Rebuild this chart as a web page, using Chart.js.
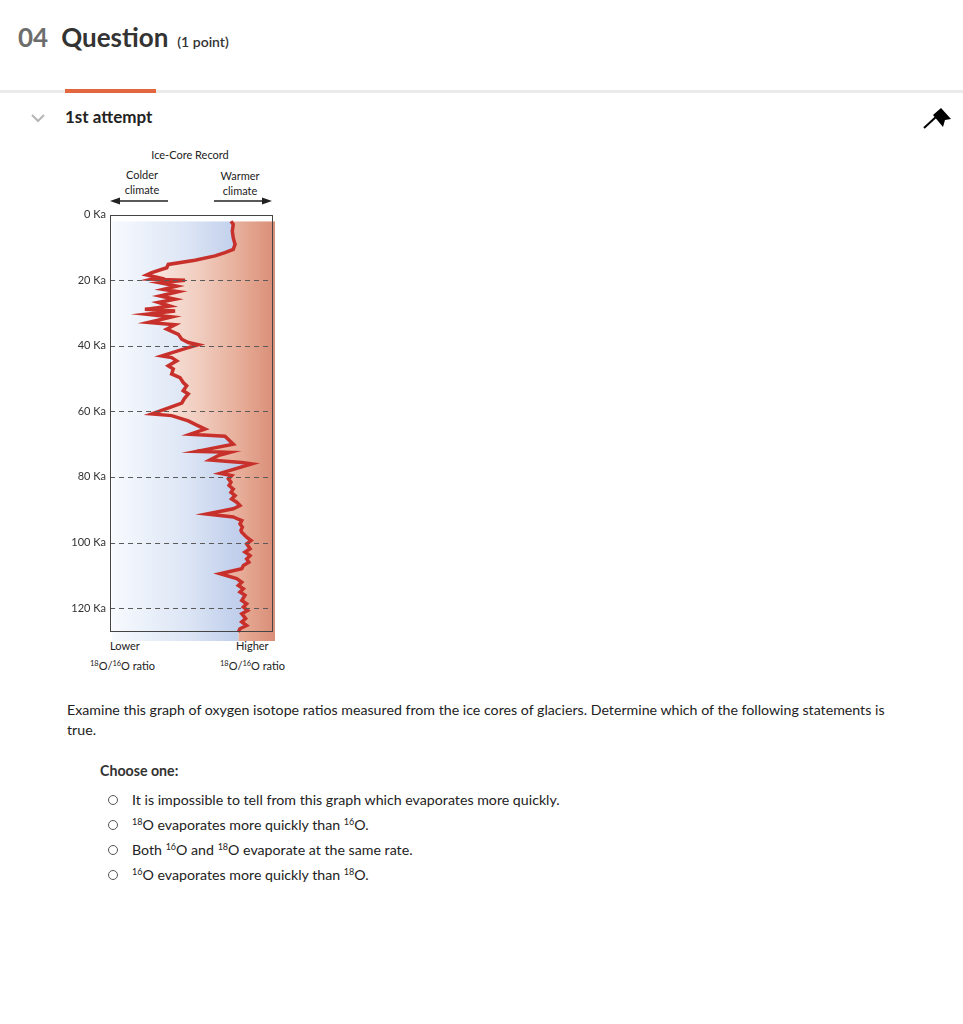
<!DOCTYPE html>
<html>
<head>
<meta charset="utf-8">
<script src="https://cdn.jsdelivr.net/npm/chart.js@4.4.0/dist/chart.umd.min.js"></script>
<style>
  html, body { margin: 0; padding: 0; background: #fff; }
  body { width: 963px; height: 1024px; position: relative; font-family: Lato, "Open Sans", sans-serif; color: #222; overflow: hidden; }
  .abs { position: absolute; white-space: nowrap; }
  .head { left: 18px; top: 21px; display: flex; align-items: baseline; }
  .head .num { font-size: 26px; font-weight: 700; color: #6d6d6d; margin-right: 13px; }
  .head .q { font-size: 26px; font-weight: 700; color: #333; margin-right: 9px; }
  .head .pts { font-size: 14px; font-weight: 600; color: #333; }
  .rule { left: 0; top: 90px; width: 963px; height: 3px; background: #ebebeb; }
  .rule-on { left: 65px; top: 89px; width: 91px; height: 4px; background: #e2673f; }
  .attempt { left: 65px; top: 106px; font-size: 17px; font-weight: 700; color: #222; }
  .lbl { font-size: 11px; color: #222; text-align: center; line-height: 15px; }
  .lbl sup { font-size: 7.5px; vertical-align: 4px; line-height: 0; }
  #chartBox { position: absolute; left: 60px; top: 201.5px; width: 220px; height: 451.5px; }
  .para { left: 67px; top: 700px; font-size: 14.2px; line-height: 20px; color: #222; }
  .choose { left: 100px; top: 762px; font-size: 14.2px; font-weight: 700; color: #333; }
  .opt { left: 108px; font-size: 14.2px; color: #222; line-height: 20px; }
  .opt .dot { display: inline-block; vertical-align: middle; margin: -3px 14px 0 0; width: 10px; height: 10px; border: 1px solid #555; border-radius: 50%; box-sizing: border-box; }
  .opt sup { font-size: 9px; vertical-align: 5px; line-height: 0; }
</style>
</head>
<body>

<div class="abs head"><span class="num">04</span><span class="q">Question</span><span class="pts">(1 point)</span></div>
<div class="abs rule"></div>
<div class="abs rule-on"></div>
<svg class="abs" style="left:30px;top:112px" width="16" height="12"><polyline points="2,3 8,9 14,3" fill="none" stroke="#b5b5b5" stroke-width="2"/></svg>
<div class="abs attempt">1st attempt</div>
<svg class="abs" style="left:920px;top:104px" width="36" height="30">
  <line x1="4" y1="24" x2="17" y2="12" stroke="#000" stroke-width="2"/>
  <polygon points="13,11 21,4 31,15 25,16 23,23" fill="#000"/>
</svg>

<!-- chart annotations -->
<div class="abs lbl" style="left:140px;top:147px;width:100px">Ice-Core Record</div>
<div class="abs lbl" style="left:112px;top:167px;width:60px">Colder<br>climate</div>
<div class="abs lbl" style="left:210px;top:168px;width:60px">Warmer<br>climate</div>
<svg class="abs" style="left:105px;top:194px" width="175" height="14">
  <line x1="14" y1="7" x2="63" y2="7" stroke="#222" stroke-width="1.3"/>
  <polygon points="5,7 15,3.5 15,10.5" fill="#222"/>
  <line x1="109" y1="7" x2="158" y2="7" stroke="#222" stroke-width="1.3"/>
  <polygon points="167,7 157,3.5 157,10.5" fill="#222"/>
</svg>
<div class="abs lbl" style="left:110px;top:638px">Lower</div>
<div class="abs lbl" style="left:90px;top:658px"><sup>18</sup>O/<sup>16</sup>O ratio</div>
<div class="abs lbl" style="left:236px;top:638px">Higher</div>
<div class="abs lbl" style="left:220px;top:658px"><sup>18</sup>O/<sup>16</sup>O ratio</div>

<div id="chartBox"><canvas id="iceChart"></canvas></div>

<div class="abs para">Examine this graph of oxygen isotope ratios measured from the ice cores of glaciers. Determine which of the following statements is<br>true.</div>
<div class="abs choose">Choose one:</div>
<div class="abs opt" style="top:790px"><span class="dot"></span>It is impossible to tell from this graph which evaporates more quickly.</div>
<div class="abs opt" style="top:815px"><span class="dot"></span><sup>18</sup>O evaporates more quickly than <sup>16</sup>O.</div>
<div class="abs opt" style="top:840px"><span class="dot"></span>Both <sup>16</sup>O and <sup>18</sup>O evaporate at the same rate.</div>
<div class="abs opt" style="top:865px"><span class="dot"></span><sup>16</sup>O evaporates more quickly than <sup>18</sup>O.</div>

<script>
/* ── Data ──────────────────────────────────────────────────────────────── */

// age, thousands of years ago (top = present)
var AGE_KA = [
  2.0, 3.0, 5.0, 7.1, 9.1, 10.6, 11.6, 12.6, 13.9, 15.2,
  16.2, 17.7, 18.4, 19.2, 19.7, 20.0, 20.8, 21.8, 22.8, 23.5,
  24.8, 25.8, 26.8, 27.9, 28.9, 29.4, 30.4, 31.2, 32.9, 33.6,
  34.9, 36.5, 38.0, 39.0, 39.7, 40.7, 43.1, 43.6, 44.6, 46.1,
  47.1, 48.6, 49.7, 51.2, 52.2, 53.7, 54.7, 56.1, 57.5, 58.8,
  60.8, 61.3, 62.9, 64.2, 65.4, 67.0, 67.6, 70.0, 72.2, 72.5,
  73.5, 74.8, 75.6, 76.0, 78.9, 79.6, 80.6, 81.6, 82.6, 83.7,
  84.7, 85.7, 86.7, 87.7, 88.7, 89.7, 91.3, 92.2, 92.9, 93.3,
  94.3, 95.3, 96.3, 96.9, 98.4, 99.4, 100.4, 101.9, 102.9, 104.0,
  105.0, 106.0, 107.0, 108.0, 109.5, 111.0, 112.1, 113.1, 114.1, 115.1,
  116.1, 117.7, 118.7, 119.7, 120.7, 121.7, 123.2, 124.2, 125.3, 126.3,
  127.3];

// 18O/16O ratio, relative units (0 = lower, 100 = higher)
var RATIO = [
  73.0, 74.4, 73.8, 74.4, 75.5, 74.4, 69.3, 63.2, 50.9, 34.5,
  33.6, 24.4, 21.3, 28.4, 24.4, 44.8, 29.4, 39.7, 31.5, 40.7,
  29.4, 38.7, 28.4, 35.6, 20.2, 38.7, 21.3, 36.6, 22.3, 38.7,
  33.6, 40.7, 42.8, 46.8, 52.9, 45.8, 30.5, 36.6, 39.7, 34.5,
  37.6, 36.6, 41.7, 43.7, 45.8, 43.7, 46.8, 44.4, 42.8, 35.6,
  24.4, 36.6, 46.8, 52.0, 57.1, 47.9, 69.3, 74.4, 52.0, 72.4,
  65.2, 60.1, 79.6, 85.7, 66.3, 73.4, 71.4, 73.0, 71.8, 74.4,
  73.0, 75.5, 73.4, 76.5, 78.5, 74.4, 58.1, 74.4, 77.5, 79.6,
  78.5, 80.0, 79.1, 79.6, 82.6, 85.3, 82.6, 84.7, 81.6, 84.7,
  82.6, 84.0, 80.6, 79.6, 66.3, 76.5, 79.6, 77.5, 80.6, 78.5,
  81.6, 79.6, 82.6, 80.6, 83.2, 79.6, 82.0, 79.6, 82.6, 78.5,
  77.5];

var TICK_KA  = [0, 20, 40, 60, 80, 100, 120];
var AGE_MAX  = 130;     // bottom of the shaded core
var FRAME_KA = 127;     // bottom of the outlined box
var FRAME_RATIO = [-1.2, 98];

/* ── Helpers ───────────────────────────────────────────────────────────── */

var record = AGE_KA.map(function (a, i) { return { x: RATIO[i], y: a }; });
// shading carries on past the last sample down to the base of the core
var shaded = record.concat([{ x: RATIO[RATIO.length - 1], y: AGE_MAX }]);

function hGradient(ctx, area, stops) {
  var g = ctx.createLinearGradient(area.left, 0, area.right, 0);
  stops.forEach(function (s) { g.addColorStop(s[0], s[1]); });
  return g;
}

function coldFill(c) {
  var area = c.chart.chartArea;
  if (!area) return '#d8e2f4';
  return hGradient(c.chart.ctx, area, [[0, '#f7fafe'], [0.45, '#dde6f5'], [0.75, '#c2d0ec'], [1, '#b3c5e8']]);
}

function warmFill(c) {
  var area = c.chart.chartArea;
  if (!area) return '#efc4b4';
  return hGradient(c.chart.ctx, area, [[0, '#fcf1ec'], [0.3, '#f8e3db'], [0.55, '#f0cbbd'], [0.8, '#e6ab96'], [1, '#d98d76']]);
}

// box outline + dashed age guides
var framePlugin = {
  id: 'coreFrame',
  afterDatasetsDraw: function (chart) {
    var ctx = chart.ctx, xs = chart.scales.x, ys = chart.scales.y;
    var l = xs.getPixelForValue(FRAME_RATIO[0]), r = xs.getPixelForValue(FRAME_RATIO[1]);
    var t = ys.getPixelForValue(0), b = ys.getPixelForValue(FRAME_KA);
    ctx.save();
    ctx.strokeStyle = '#5a5a5a';
    ctx.lineWidth = 1.2;
    ctx.setLineDash([5, 4]);
    TICK_KA.slice(1).forEach(function (v) {
      var y = Math.round(ys.getPixelForValue(v)) + 0.5;
      ctx.beginPath(); ctx.moveTo(l, y); ctx.lineTo(r, y); ctx.stroke();
    });
    ctx.setLineDash([]);
    ctx.strokeStyle = '#444';
    ctx.lineWidth = 1;
    ctx.strokeRect(Math.round(l) + 0.5, Math.round(t) + 0.5, Math.round(r - l), Math.round(b - t));
    ctx.restore();
  }
};

/* ── Chart ─────────────────────────────────────────────────────────────── */

new Chart(document.getElementById('iceChart'), {
  type: 'line',
  data: {
    datasets: [
      {
        label: 'Record',
        data: record,
        borderColor: '#c8312b',
        borderWidth: 3.5,
        pointRadius: 0,
        fill: false,
        order: 0
      },
      {
        label: 'Colder side',
        data: shaded,
        borderWidth: 0,
        pointRadius: 0,
        backgroundColor: coldFill,
        fill: { value: 0 },
        order: 1
      },
      {
        label: 'Warmer side',
        data: shaded,
        borderWidth: 0,
        pointRadius: 0,
        backgroundColor: warmFill,
        fill: { value: 100 },
        order: 2
      }
    ]
  },
  options: {
    indexAxis: 'y',
    responsive: true,
    maintainAspectRatio: false,
    animation: false,
    layout: { padding: { left: 0, right: 5, top: 8.5, bottom: 5 } },
    plugins: { legend: { display: false }, tooltip: { enabled: false } },
    scales: {
      x: { type: 'linear', min: 0, max: 100, display: false },
      y: {
        type: 'linear',
        reverse: true,
        min: 0,
        max: AGE_MAX,
        afterBuildTicks: function (axis) { axis.ticks = TICK_KA.map(function (v) { return { value: v }; }); },
        afterFit: function (axis) { axis.width = 52; },
        grid: { display: false, drawTicks: false },
        border: { display: false },
        ticks: {
          padding: 6,
          color: '#333',
          font: { family: 'Lato', size: 11 },
          callback: function (v) { return v + ' Ka'; }
        }
      }
    }
  },
  plugins: [framePlugin]
});
</script>
</body>
</html>
